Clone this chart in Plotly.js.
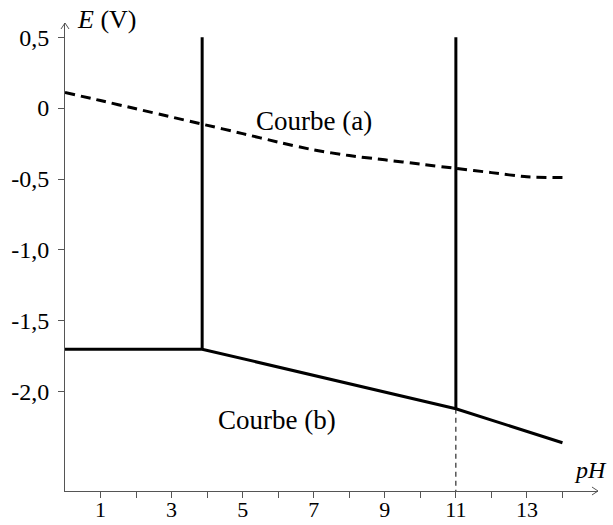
<!DOCTYPE html>
<html>
<head>
<meta charset="utf-8">
<script src="https://cdn.plot.ly/plotly-3.0.1.min.js"></script>
<style>html,body{margin:0;padding:0;background:#fff;}#chart{width:613px;height:525px;}</style>
</head>
<body>
<div id="chart"></div>
<script>
// Courbe (a) : dashed
const phA = [0, 1, 2, 3, 3.86, 5, 6, 7, 8, 9, 10, 11, 12, 13, 14];
const eA  = [0.11, 0.053, -0.005, -0.063, -0.113, -0.18, -0.24, -0.295, -0.335, -0.365, -0.395, -0.425, -0.455, -0.485, -0.49];
// Courbe (b) : solid
const phB = [0, 3.86, 11, 14];
const eB  = [-1.70, -1.70, -2.12, -2.36];
// vertical boundaries
const boundaryPh = [3.86, 11];
const boundaryLow = [-1.70, -2.12];
const boundaryTop = 0.5;
const axisBottom = -2.7;
// ticks
const xTickVals = [1,2,3,4,5,6,7,8,9,10,11,12,13,14];
const xTickText = ['1','','3','','5','','7','','9','','11','','13',''];
const yTickVals = [0.5, 0, -0.5, -1.0, -1.5, -2.0];
const yTickText = ['0,5', '0', '-0,5', '-1,0', '-1,5', '-2,0'];

const FONT = 'Liberation Serif, Times New Roman, serif';

const traces = [
  {x: phA, y: eA, mode: 'lines', line: {color: '#000', width: 3, dash: '10px,6px', shape: 'spline', smoothing: 0.6}},
  {x: phB, y: eB, mode: 'lines', line: {color: '#000', width: 3}},
];
boundaryPh.forEach((p, i) => {
  traces.push({x: [p, p], y: [boundaryLow[i], boundaryTop], mode: 'lines', line: {color: '#000', width: 3}});
});
// thin dashed drop line at pH 11
traces.push({x: [boundaryPh[1], boundaryPh[1]], y: [boundaryLow[1], axisBottom], mode: 'lines', line: {color: '#000', width: 1, dash: '5px,4px'}});

const layout = {
  width: 613, height: 525,
  margin: {l: 65, r: 15, t: 23, b: 34},
  paper_bgcolor: '#fff', plot_bgcolor: '#fff',
  showlegend: false, hovermode: false,
  font: {family: FONT, size: 24, color: '#000'},
  xaxis: {
    range: [0, 15], showgrid: false, zeroline: false,
    showline: true, linecolor: '#555', linewidth: 1,
    ticks: 'outside', ticklen: 6, tickwidth: 1, tickcolor: '#555',
    tickvals: xTickVals, ticktext: xTickText,
    ticklabelstandoff: -7,
    tickfont: {family: FONT, size: 22, color: '#000'}
  },
  yaxis: {
    range: [axisBottom, 0.6], showgrid: false, zeroline: false,
    showline: true, linecolor: '#555', linewidth: 1,
    ticks: 'outside', ticklen: 6, tickwidth: 1, tickcolor: '#555',
    tickvals: yTickVals, ticktext: yTickText,
    ticklabelstandoff: 4,
    tickfont: {family: FONT, size: 24, color: '#000'}
  },
  shapes: [
    {type: 'path', xref: 'paper', yref: 'paper', path: 'M 0.9887,0.0085 L 1,0 L 0.9887,-0.0085', line: {color: '#555', width: 1}},
    {type: 'path', xref: 'paper', yref: 'paper', path: 'M -0.0075,0.9872 L 0,1 L 0.0075,0.9872', line: {color: '#555', width: 1}}
  ],
  annotations: [
    {x: 0, y: 0.6, xref: 'x', yref: 'y', text: '<i>E</i> (V)', showarrow: false, xanchor: 'left', yanchor: 'middle', xshift: 10, yshift: 4, font: {family: FONT, size: 26}},
    {x: 14.8, y: -2.55, xref: 'x', yref: 'y', text: '<i>pH</i>', showarrow: false, xanchor: 'center', yanchor: 'middle', font: {family: FONT, size: 24}},
    {x: 7, y: -0.09, xref: 'x', yref: 'y', text: 'Courbe (a)', showarrow: false, xanchor: 'center', yanchor: 'middle', font: {family: FONT, size: 27}},
    {x: 5.97, y: -2.20, xref: 'x', yref: 'y', text: 'Courbe (b)', showarrow: false, xanchor: 'center', yanchor: 'middle', font: {family: FONT, size: 27}}
  ]
};

Plotly.newPlot('chart', traces, layout, {displayModeBar: false, staticPlot: true});
</script>
</body>
</html>
